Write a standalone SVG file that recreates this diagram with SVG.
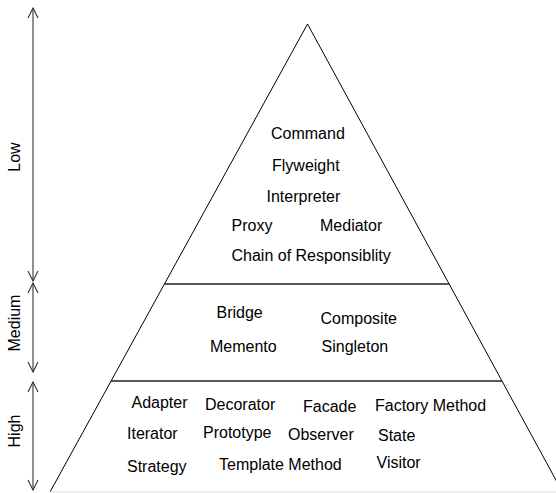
<svg xmlns="http://www.w3.org/2000/svg" width="556" height="493" viewBox="0 0 556 493">
<defs>
<style>
text{font-family:"Liberation Sans",Arial,sans-serif;font-size:16px;fill:#000}
.ln{stroke:#000;stroke-width:1;fill:none}
.hl{stroke:#222;stroke-width:1.3;fill:none}
.ar{stroke:#333;stroke-width:1.1;fill:none}
</style>
<marker id="ah" viewBox="0 0 12 12" refX="11" refY="6" markerWidth="12" markerHeight="12" markerUnits="userSpaceOnUse" orient="auto-start-reverse">
<path d="M1,1 L11,6 L1,11" fill="none" stroke="#333" stroke-width="1.1"/>
</marker>
</defs>
<rect width="556" height="493" fill="#fff"/>
<g id="pyramid">
<line class="ln" x1="307.5" y1="24" x2="50" y2="492"/>
<line class="ln" x1="307.5" y1="24" x2="563" y2="493"/>
<line class="hl" x1="164" y1="284" x2="449" y2="284"/>
<line class="hl" x1="111" y1="381" x2="502" y2="381"/>
<line x1="50" y1="492" x2="556" y2="492" stroke="#ddd" stroke-width="1"/>
</g>
<g id="connectors">
<line class="ar" x1="33" y1="8" x2="33" y2="281" marker-start="url(#ah)" marker-end="url(#ah)"/>
<line class="ar" x1="33" y1="283" x2="33" y2="372" marker-start="url(#ah)" marker-end="url(#ah)"/>
<line class="ar" x1="33" y1="382" x2="33" y2="490" marker-start="url(#ah)" marker-end="url(#ah)"/>
</g>
<g id="low-label"><text transform="translate(20,157) rotate(-90)" text-anchor="middle">Low</text></g>
<g id="medium-label"><text transform="translate(20,323) rotate(-90)" text-anchor="middle">Medium</text></g>
<g id="high-label"><text transform="translate(20,431) rotate(-90)" text-anchor="middle">High</text></g>
<g id="low">
<text x="271" y="139">Command</text>
<text x="272" y="171">Flyweight</text>
<text x="266.5" y="202">Interpreter</text>
<text x="231.5" y="231">Proxy</text>
<text x="320" y="231">Mediator</text>
<text x="231.5" y="261">Chain of Responsiblity</text>
</g>
<g id="medium">
<text x="216.5" y="318">Bridge</text>
<text x="320.5" y="324">Composite</text>
<text x="210" y="352">Memento</text>
<text x="321.5" y="352">Singleton</text>
</g>
<g id="high">
<text x="131.5" y="408">Adapter</text>
<text x="205" y="410">Decorator</text>
<text x="303" y="411.5">Facade</text>
<text x="375" y="410.5">Factory Method</text>
<text x="127" y="439">Iterator</text>
<text x="203" y="438">Prototype</text>
<text x="288" y="440">Observer</text>
<text x="378" y="441">State</text>
<text x="127" y="471.5">Strategy</text>
<text x="219" y="470">Template Method</text>
<text x="376.5" y="468">Visitor</text>
</g>
</svg>
